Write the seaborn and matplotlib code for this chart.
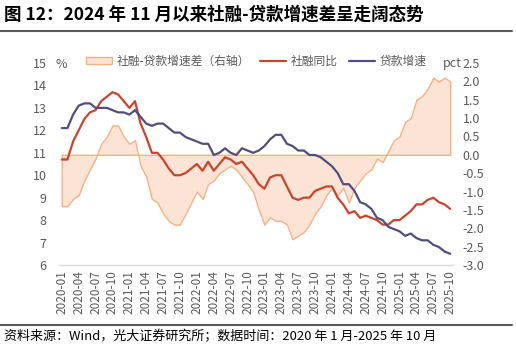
import matplotlib
matplotlib.use("Agg")
import matplotlib.pyplot as plt
import seaborn as sns
import pandas as pd
import numpy as np
from matplotlib.lines import Line2D
from matplotlib.patches import Patch

# ---- data (monthly, 2020-01 .. 2025-10) ----
tsf_yoy = [10.7, 10.7, 11.5, 12.0, 12.5, 12.8, 12.9, 13.3, 13.5, 13.7, 13.6, 13.3,
           13.0, 13.3, 12.3, 11.7, 11.0, 11.0, 10.7, 10.3, 10.0, 10.0, 10.1, 10.3,
           10.5, 10.2, 10.6, 10.2, 10.5, 10.8, 10.7, 10.5, 10.6, 10.3, 10.0, 9.6,
           9.4, 9.9, 10.0, 10.0, 9.5, 9.0, 8.9, 9.0, 9.0, 9.3, 9.4, 9.5,
           9.5, 9.0, 8.7, 8.3, 8.4, 8.1, 8.2, 8.1, 8.0, 7.8, 7.8, 8.0,
           8.0, 8.2, 8.4, 8.7, 8.7, 8.9, 9.0, 8.8, 8.7, 8.5]
loan_yoy = [12.1, 12.1, 12.7, 13.1, 13.2, 13.2, 13.0, 13.0, 13.0, 12.9, 12.8, 12.8,
            12.7, 12.9, 12.6, 12.3, 12.2, 12.3, 12.3, 12.1, 11.9, 11.9, 11.7, 11.6,
            11.5, 11.4, 11.4, 10.9, 11.0, 11.2, 11.0, 10.9, 11.2, 11.1, 11.0, 11.1,
            11.3, 11.6, 11.8, 11.8, 11.4, 11.3, 11.1, 11.1, 10.9, 10.9, 10.8, 10.6,
            10.4, 10.1, 9.6, 9.6, 9.3, 8.8, 8.7, 8.5, 8.1, 8.0, 7.7, 7.6,
            7.5, 7.3, 7.4, 7.2, 7.1, 7.1, 6.9, 6.8, 6.6, 6.5]
spread = [-1.4, -1.4, -1.2, -1.1, -0.7, -0.4, -0.1, 0.3, 0.5, 0.8, 0.8, 0.5,
          0.3, 0.4, -0.3, -0.6, -1.2, -1.3, -1.6, -1.8, -1.9, -1.9, -1.6, -1.3,
          -1.0, -1.2, -0.8, -0.7, -0.5, -0.4, -0.3, -0.4, -0.6, -0.8, -1.0, -1.5,
          -1.9, -1.7, -1.8, -1.8, -1.9, -2.3, -2.2, -2.1, -1.9, -1.6, -1.4, -1.1,
          -0.9, -1.1, -0.9, -1.3, -0.9, -0.7, -0.5, -0.4, -0.1, -0.2, 0.1, 0.4,
          0.5, 0.9, 1.0, 1.5, 1.6, 1.8, 2.1, 2.0, 2.1, 2.0]
tick_labels = ["2020-01", "2020-04", "2020-07", "2020-10", "2021-01", "2021-04",
               "2021-07", "2021-10", "2022-01", "2022-04", "2022-07", "2022-10",
               "2023-01", "2023-04", "2023-07", "2023-10", "2024-01", "2024-04",
               "2024-07", "2024-10", "2025-01", "2025-04", "2025-07", "2025-10"]
left_ticks = [6, 7, 8, 9, 10, 11, 12, 13, 14, 15]
right_ticks = [-3.0, -2.5, -2.0, -1.5, -1.0, -0.5, 0.0, 0.5, 1.0, 1.5, 2.0, 2.5]

sns.set_theme(style="white")
plt.rcParams['font.family'] = ['Noto Sans CJK SC', 'DejaVu Sans']

RED = "#C8452C"
BLUE = "#4F4E7E"
FILL = "#FBE3D6"
EDGE = "#F4B183"
GRAY = "#595959"

idx = np.arange(len(tsf_yoy))
df = pd.DataFrame({"idx": idx, "社融同比": tsf_yoy, "贷款增速": loan_yoy, "spread": spread})

W, H = 516, 347
fig = plt.figure(figsize=(W / 100, H / 100), dpi=100)
ax = fig.add_axes([59 / W, 1 - 265 / H, 394 / W, 202 / H])
ax2 = ax.twinx()

# area on right axis (drawn behind)
ax2.fill_between(df["idx"], 0, df["spread"], facecolor=FILL, edgecolor=EDGE, linewidth=1.0)
ax2.set_ylim(-3.0, 2.5)
ax2.set_yticks(right_ticks)
ax2.set_yticklabels([f"{v:.1f}" for v in right_ticks])

# lines on left axis
sns.lineplot(data=df, x="idx", y="社融同比", ax=ax, color=RED, linewidth=1.6)
sns.lineplot(data=df, x="idx", y="贷款增速", ax=ax, color=BLUE, linewidth=1.6)
ax.set_zorder(ax2.get_zorder() + 1)
ax.patch.set_visible(False)

ax.set_ylim(6, 15)
ax.set_yticks(left_ticks)
ax.set_xlim(-0.5, len(idx) - 0.5)
ax.set_xticks(idx[::3])
ax.set_xticklabels(tick_labels, rotation=90)
ax.set_xlabel("")
ax.set_ylabel("")

for a in (ax, ax2):
    for s in a.spines.values():
        s.set_visible(False)
ax.spines["bottom"].set_visible(True)
ax.spines["bottom"].set_color("#D9D9D9")
ax.spines["bottom"].set_linewidth(1.0)

ax.tick_params(axis="x", colors=GRAY, labelsize=8.5, length=3, direction="in",
               color="#D9D9D9", pad=4)
ax.tick_params(axis="y", colors=GRAY, labelsize=9, length=0, pad=9)
ax2.tick_params(axis="y", colors=GRAY, labelsize=9, length=0, pad=7)
ax.grid(False)
ax2.grid(False)

# unit labels
fig.text(55 / W, 1 - 64 / H, "%", fontsize=9, color=GRAY, va="center", ha="left")
fig.text(462 / W, 1 - 64 / H, "pct", fontsize=9, color=GRAY, va="center", ha="right")

# legend
handles = [Patch(facecolor=FILL, edgecolor=EDGE, linewidth=1.0),
           Line2D([], [], color=RED, linewidth=1.6),
           Line2D([], [], color=BLUE, linewidth=1.6)]
labels = ["社融-贷款增速差（右轴）", "社融同比", "贷款增速"]
fig.legend(handles, labels, loc="center", bbox_to_anchor=(256 / W, 1 - 61 / H), ncol=3,
           frameon=False, fontsize=8.5, labelcolor=GRAY, handlelength=2.2,
           handleheight=0.6, columnspacing=0.9, handletextpad=0.4)

# title and footer
fig.text(4 / W, 1 - 15 / H, "图 12：2024 年 11 月以来社融-贷款增速差呈走阔态势",
         fontsize=12.6, fontweight="bold", color="black", va="center", ha="left")
fig.add_artist(Line2D([0, 512 / W], [1 - 31 / H, 1 - 31 / H], color="#595959", linewidth=1.5))
fig.add_artist(Line2D([0, 512 / W], [1 - 325 / H, 1 - 325 / H], color="#595959", linewidth=1.5))
fig.text(4 / W, 1 - 337 / H, "资料来源：Wind，光大证券研究所；数据时间：2020 年 1 月-2025 年 10 月",
         fontsize=9.4, color="black", va="center", ha="left")

fig.savefig("out.png", dpi=100)
